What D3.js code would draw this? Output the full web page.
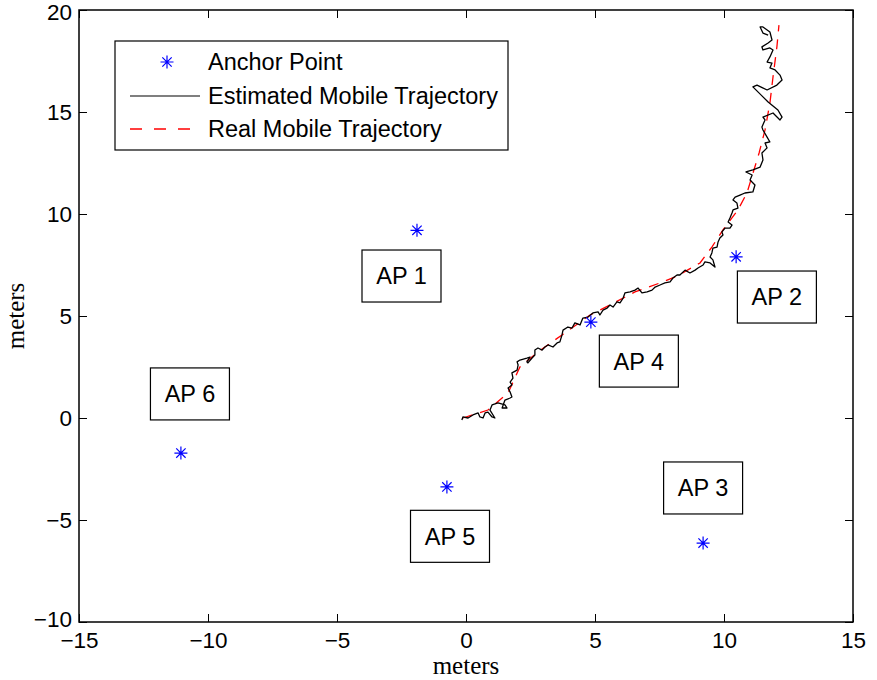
<!DOCTYPE html>
<html><head><meta charset="utf-8">
<script src="https://cdn.jsdelivr.net/npm/d3@7"></script>
<style>body{margin:0;background:#fff}svg{display:block}</style>
</head><body>
<svg id="c" width="877" height="680"></svg>
<script>
const xTicks = [-15,-10,-5,0,5,10,15];
const yTicks = [-10,-5,0,5,10,15,20];
const apNames = ["AP 1","AP 2","AP 3","AP 4","AP 5","AP 6"];
const apX = [-1.9, 10.47, 9.19, 4.84, -0.74, -11.05];
const apY = [9.2, 7.9, -6.13, 4.7, -3.38, -1.72];
const labelX = [-2.5, 12.05, 9.19, 6.7, -0.62, -10.7];
const labelY = [6.96, 5.93, -3.43, 2.79, -5.8, 1.18];
const realX = [-0.12,0.85,1.63,2.09,2.79,3.72,4.81,5.58,6.55,7.52,8.18,9.07,9.53,9.96,10.54,10.89,11.36,11.59,11.78,11.9,12.05,12.13];
const realY = [0,0.39,1.23,2.5,3.24,4.07,5.05,5.54,6.18,6.62,6.96,7.6,8.38,9.22,10.2,11.03,12.99,14.12,15.44,16.72,18.19,19.26];
const estX = [-0.16,-0.12,0.08,0.27,0.47,0.54,0.66,0.74,0.85,1.01,1.12,0.93,1.01,1.24,1.51,1.59,1.40,1.51,1.71,1.78,1.71,1.63,1.78,1.71,1.82,1.78,1.98,2.02,1.98,2.09,2.36,2.48,2.36,2.40,2.56,2.67,2.67,2.79,2.95,3.06,3.18,3.37,3.53,3.64,
3.72,3.76,3.95,4.11,4.22,4.42,4.53,4.73,4.92,5.12,5.19,5.31,5.47,5.58,5.70,5.85,5.97,6.09,6.16,6.36,6.55,6.67,6.82,7.02,7.21,7.33,7.52,7.71,7.91,8.02,8.18,
8.29,8.49,8.68,8.88,8.99,9.19,9.26,9.46,9.65,9.57,9.46,9.53,9.57,9.73,9.77,9.84,9.96,9.92,10.04,10.23,10.31,10.16,10.23,10.31,10.35,10.54,10.50,10.35,10.43,10.62,10.81,
11.12,11.20,11.01,11.09,10.85,11.12,11.40,11.51,11.47,11.67,11.59,11.78,11.67,11.51,11.47,11.59,11.51,11.90,12.17,12.25,12.09,11.71,11.51,11.12,11.28,11.67,12.05,12.25,12.17,11.98,11.78,11.86,11.67,11.78,11.90,11.78,11.51,11.47,11.71,11.86,11.78,11.51,11.40,11.51,11.71];
const estY = [-0.10,0.05,0.00,0.15,0.25,0.05,0.00,0.25,0.29,0.05,0.00,0.39,0.64,0.74,0.64,0.49,0.49,0.88,0.98,1.03,1.27,1.47,1.62,1.76,1.96,2.21,2.35,2.60,2.75,2.84,2.94,2.99,2.75,2.70,2.94,3.09,3.33,3.43,3.33,3.48,3.58,3.48,3.68,3.73,
4.07,4.31,4.46,4.41,4.66,4.56,4.90,4.95,5.15,5.20,5.05,5.29,5.39,5.54,5.44,5.69,5.64,5.88,6.13,6.18,6.27,6.37,6.13,6.18,6.27,6.42,6.52,6.62,6.67,6.86,7.01,
7.01,7.25,7.11,7.25,7.35,7.50,7.65,7.60,7.40,7.75,7.89,8.09,8.33,8.38,8.63,8.82,8.97,9.12,9.31,9.31,9.46,9.61,9.80,10.05,10.20,10.29,10.54,10.69,10.83,10.93,11.03,
11.08,11.42,11.67,11.91,12.06,12.16,12.30,12.65,12.99,13.24,13.48,13.53,13.77,14.12,14.26,14.61,14.75,14.95,14.61,14.75,15.10,15.49,15.74,16.23,16.32,16.08,16.32,16.57,16.81,17.06,17.16,17.40,17.45,17.70,18.04,18.14,18.04,18.19,18.38,18.53,18.92,19.17,19.17,18.87,18.77];
const legendLabels = ["Anchor Point","Estimated Mobile Trajectory","Real Mobile Trajectory"];

const svg = d3.select("#c");
const L=79, R=853, T=10, B=622;
const x = d3.scaleLinear().domain([-15,15]).range([L,R]);
const y = d3.scaleLinear().domain([-10,20]).range([B,T]);
const fmt = d => (d<0 ? "\u2212"+Math.abs(d) : ""+d);
const sans = "Liberation Sans, Arial, Helvetica, sans-serif";
const serif = "Liberation Serif, Times New Roman, serif";

// axes with inward ticks
const gx = svg.append("g").attr("transform",`translate(0,${B})`)
  .call(d3.axisBottom(x).tickValues(xTicks).tickSize(-8).tickPadding(11).tickFormat(fmt));
const gxt = svg.append("g").attr("transform",`translate(0,${T})`)
  .call(d3.axisTop(x).tickValues(xTicks).tickSize(-8).tickFormat(""));
const gy = svg.append("g").attr("transform",`translate(${L},0)`)
  .call(d3.axisLeft(y).tickValues(yTicks).tickSize(-8).tickPadding(7).tickFormat(fmt));
const gyr = svg.append("g").attr("transform",`translate(${R},0)`)
  .call(d3.axisRight(y).tickValues(yTicks).tickSize(-8).tickFormat(""));
[gx,gxt,gy,gyr].forEach(g=>{
  g.select(".domain").remove();
  g.selectAll(".tick line").attr("stroke","#000").attr("stroke-width",1);
  g.selectAll("text").attr("font-family",sans).attr("font-size",22.5).attr("fill","#000");
});
gx.selectAll("text").attr("dy","0.68em");
gy.selectAll("text").attr("dy", d => d===20 ? "0.42em" : (d===-10 ? "0.22em" : "0.33em"));
svg.append("rect").attr("x",L).attr("y",T).attr("width",R-L).attr("height",B-T)
  .attr("fill","none").attr("stroke","#000").attr("stroke-width",1.5);

// axis labels
svg.append("text").attr("x",x(0)).attr("y",674).attr("text-anchor","middle")
  .attr("font-family",serif).attr("font-size",25).text("meters");
svg.append("text").attr("transform",`translate(24,${y(5)}) rotate(-90)`).attr("text-anchor","middle")
  .attr("font-family",serif).attr("font-size",25).text("meters");

// trajectories
const realPts = realX.map((v,i)=>[v,realY[i]]);
const estPts = estX.map((v,i)=>[v,estY[i]]);
const line = d3.line().x(d=>x(d[0])).y(d=>y(d[1]));
svg.append("path").attr("d",line(realPts)).attr("fill","none").attr("stroke","#ff0000")
  .attr("stroke-width",1.3).attr("stroke-dasharray","10,8");
svg.append("path").attr("d",line(estPts)).attr("fill","none").attr("stroke","#000")
  .attr("stroke-width",1.3).attr("stroke-linejoin","round");

// asterisk marker
function star(g, cx, cy, r){
  const d = `M${cx-r},${cy}L${cx+r},${cy}M${cx},${cy-r}L${cx},${cy+r}`+
    `M${cx-r*0.72},${cy-r*0.72}L${cx+r*0.72},${cy+r*0.72}M${cx-r*0.72},${cy+r*0.72}L${cx+r*0.72},${cy-r*0.72}`;
  g.append("path").attr("d",d).attr("stroke","#0000ff").attr("stroke-width",1.2).attr("fill","none");
}
apX.forEach((v,i)=>star(svg, x(v), y(apY[i]), 6.5));

// AP labels
apNames.forEach((n,i)=>{
  const cx = x(labelX[i]), cy = y(labelY[i]);
  svg.append("rect").attr("x",cx-39.5).attr("y",cy-26).attr("width",79).attr("height",52)
    .attr("fill","#fff").attr("stroke","#000").attr("stroke-width",1.2);
  svg.append("text").attr("x",cx).attr("y",cy).attr("dy","0.36em").attr("text-anchor","middle")
    .attr("font-family",sans).attr("font-size",23.5).text(n);
});

// legend
const lg = svg.append("g");
lg.append("rect").attr("x",115).attr("y",41).attr("width",393).attr("height",109)
  .attr("fill","#fff").attr("stroke","#000").attr("stroke-width",1.2);
const rowsY = [62,96,129];
star(lg, 167, rowsY[0], 6.5);
lg.append("line").attr("x1",130).attr("x2",200).attr("y1",rowsY[1]).attr("y2",rowsY[1])
  .attr("stroke","#000").attr("stroke-width",1.2);
lg.append("line").attr("x1",130).attr("x2",200).attr("y1",rowsY[2]).attr("y2",rowsY[2])
  .attr("stroke","#ff0000").attr("stroke-width",1.3).attr("stroke-dasharray","12,12");
legendLabels.forEach((t,i)=>{
  lg.append("text").attr("x",208).attr("y",rowsY[i]).attr("dy","0.36em")
    .attr("font-family",sans).attr("font-size",23.5).text(t);
});
</script>
</body></html>
